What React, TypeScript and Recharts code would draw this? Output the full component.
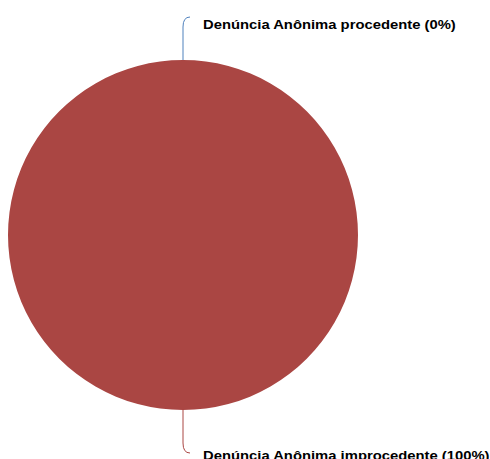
import React from "react";
import { PieChart, Pie, Cell } from "recharts";

const categories = ["Denúncia Anônima procedente", "Denúncia Anônima improcedente"];
const values = [0, 100];
const colors = ["#4F81BD", "#AA4643"];

const data = categories.map((name, i) => ({ name, value: values[i] }));
const total = values.reduce((a, b) => a + b, 0);

const RAD = Math.PI / 180;

// Leader line runs straight out from the slice edge, then bends right toward the text.
const renderLabel = (props: any) => {
  const { cx, cy, midAngle, outerRadius, index } = props;
  const sin = Math.sin(-midAngle * RAD);
  const cos = Math.cos(-midAngle * RAD);
  const sx = cx + outerRadius * cos;
  const sy = cy + outerRadius * sin;
  const dir = sin < 0 ? -1 : 1;
  const my = sy + dir * 33;
  const ex = sx + 7;
  const ey = my + dir * 10;
  const pct = Math.round((values[index] / total) * 100);
  const tx = cx + 20;
  const ty = dir < 0 ? ey + 12 : ey + 6.5;
  return (
    <g>
      <path
        d={`M${sx},${sy} L${sx},${my} Q${sx},${ey} ${ex},${ey}`}
        stroke={colors[index]}
        strokeWidth={1}
        fill="none"
      />
      <text
        transform={`translate(${tx},${ty}) scale(1.14,1)`}
        x={0}
        y={0}
        textAnchor="start"
        fontFamily="Liberation Sans, Arial, sans-serif"
        fontWeight="bold"
        fontSize={13}
        fill="#000"
      >
        {`${categories[index]} (${pct}%)`}
      </text>
    </g>
  );
};

export default function App() {
  return (
    <div style={{ position: "absolute", left: 0, top: 0, width: 490, height: 459, background: "#fff" }}>
      <PieChart width={490} height={459} margin={{ top: 0, right: 0, bottom: 0, left: 0 }}>
        <Pie
          data={data}
          dataKey="value"
          nameKey="name"
          cx={183}
          cy={235}
          outerRadius={175}
          startAngle={90}
          endAngle={-270}
          stroke="none"
          labelLine={false}
          label={renderLabel}
          isAnimationActive={false}
        >
          {data.map((d, i) => (
            <Cell key={d.name} fill={colors[i]} />
          ))}
        </Pie>
      </PieChart>
    </div>
  );
}
